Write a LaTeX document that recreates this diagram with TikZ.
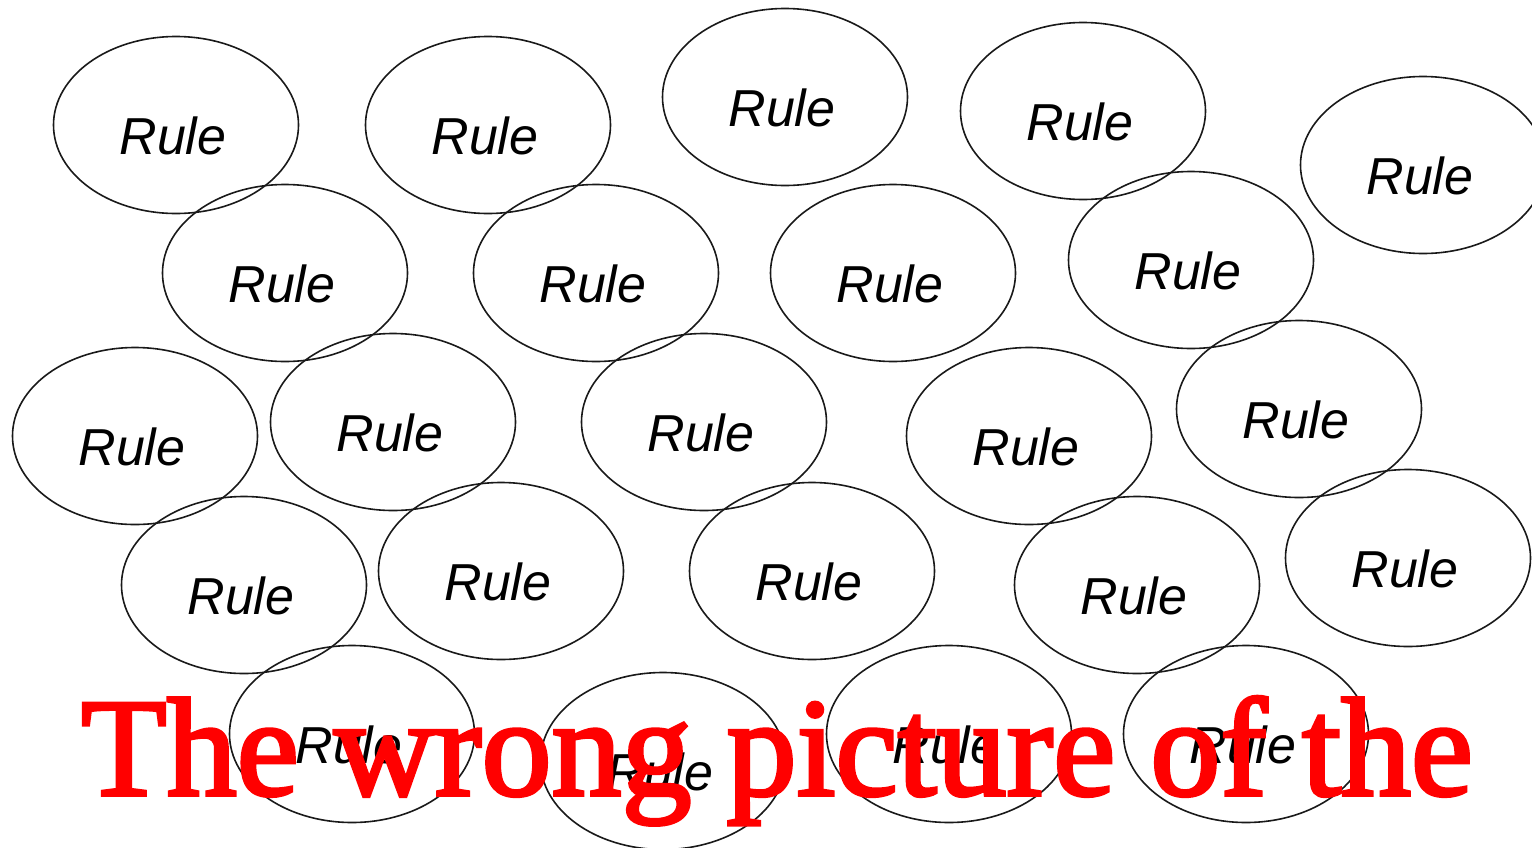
\documentclass[tikz,border=0pt]{standalone}
\usepackage{fontspec}
\setmainfont{Liberation Serif}
\newfontfamily\rulefont{Liberation Sans}
\newfontfamily\redfont{Liberation Serif}[FakeBold=2.5]
\usetikzlibrary{shapes.geometric}
\tikzset{
  rulebox/.style={draw=black!90, line width=1.6pt, ellipse, minimum width=245pt, minimum height=177pt, inner sep=0pt},
  ruletext/.style={inner sep=0pt, font=\rulefont\itshape\fontsize{52}{52}\selectfont},
  overlay text/.style={inner sep=0pt, anchor=base west, text=red, font=\redfont\fontsize{140}{140}\selectfont}
}
\begin{document}
\begin{tikzpicture}[x=1pt,y=-1pt]
\useasboundingbox (0,0) rectangle (1532,847);
\foreach \n/\x/\y in {
  1/176/125, 2/488/125, 3/785/97, 4/1083/111, 5/1423/165,
  6/285/273, 7/596/273, 8/893/273, 9/1191/260,
  10/135/436, 11/393/422, 12/704/422, 13/1029/436, 14/1299/409,
  15/244/585, 16/501/571, 17/812/571, 18/1137/585, 19/1408/558,
  20/352/734, 21/663/761, 22/949/734, 23/1246/734}{
  \node[rulebox] (e\n) at (\x,\y) {};
  \node[ruletext] (t\n) at ([xshift=-3pt,yshift=-11pt]e\n.center) {Rule};
}
\node[overlay text] (title) at (81,795) {The wrong picture of the};
\end{tikzpicture}
\end{document}
